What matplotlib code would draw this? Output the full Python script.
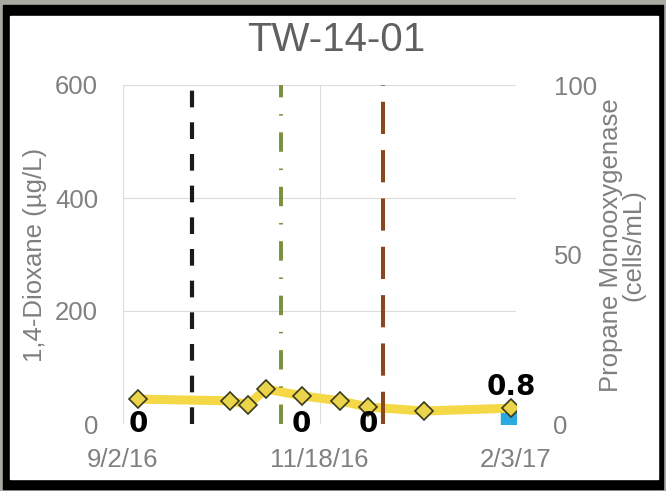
import matplotlib
matplotlib.use("Agg")
import matplotlib.pyplot as plt
from matplotlib.patches import Rectangle
import numpy as np
import pandas as pd

# ---------------- data ----------------
title = "TW-14-01"
dioxane_dates = ["2016-09-08", "2016-10-14", "2016-10-21", "2016-10-28", "2016-11-11",
                 "2016-11-26", "2016-12-07", "2016-12-29", "2017-02-01"]
dioxane_vals = [44, 41, 34, 62, 50, 41, 30, 23, 28]

pmo_dates = ["2016-09-08", "2016-11-11", "2016-12-07", "2017-02-01"]
pmo_vals = [0, 0, 0, 0.8]

event_dates = ["2016-09-29", "2016-11-03", "2016-12-13"]
event_colors = ["#1a1a1a", "#78913a", "#8a461c"]

xtick_dates = ["2016-09-02", "2016-11-18", "2017-02-03"]
xtick_labels = ["9/2/16", "11/18/16", "2/3/17"]
left_ticks = [0, 200, 400, 600]
right_ticks = [0, 50, 100]
left_label = "1,4-Dioxane (µg/L)"
right_label = "Propane Monooxygenase\n(cells/mL)"

# ---------------- figure ----------------
plt.rcParams['font.family'] = ['Liberation Sans', 'DejaVu Sans']
W, H = 666, 491
fig = plt.figure(figsize=(W / 100, H / 100), dpi=100, facecolor="#aaaaa3")

def fx(px):
    return px / W

def fy(py):
    return 1 - py / H

fig.patches.append(Rectangle((fx(3), fy(489)), fx(663) - fx(3), fy(5) - fy(489),
                             transform=fig.transFigure, color="black", zorder=-2))
fig.patches.append(Rectangle((fx(10), fy(479)), fx(658) - fx(10), fy(16) - fy(479),
                             transform=fig.transFigure, color="white", zorder=-1))

ax = fig.add_axes([fx(123), fy(424), fx(516) - fx(123), fy(85) - fy(424)])
ax2 = ax.twinx()
ax2.set_zorder(1)
ax.set_zorder(2)
ax.patch.set_visible(False)
ax2.patch.set_visible(False)

dd = pd.to_datetime(dioxane_dates)
pd_dates = pd.to_datetime(pmo_dates)
pv = np.array(pmo_vals)

# dioxane line
ax.plot(dd, dioxane_vals, color="#f4d846", lw=6.5, solid_capstyle="round", zorder=2)

# event lines
styles = [(0, (4, 3.6)), (0, (5, 4.3, 0.4, 4.3)), (0, (8, 4))]
widths = [3.0, 2.8, 2.9]
for d, c, ls, w in zip(pd.to_datetime(event_dates), event_colors, styles, widths):
    ax.axvline(d, color=c, lw=w, linestyle=ls, zorder=3)

ax.plot(dd, dioxane_vals, linestyle="none", marker="D", ms=9.5, mfc="#ead44a",
        mec="#3a3a1e", mew=1.2, zorder=4)

# PMO squares (detected values only) and data labels
det = pv > 0
ax2.plot(pd_dates[det], pv[det], linestyle="none", marker="s", ms=15,
         color="#2aa8df", zorder=2)
for d, v in zip(pd_dates, pv):
    off = 25 if v > 0 else 0
    ax.annotate(f"{v:g}", (d, v), xycoords=("data", ax2.transData), xytext=(0, off),
                textcoords="offset points", ha="center", va="center", fontsize=20,
                fontweight="bold", family="DejaVu Sans", color="black",
                annotation_clip=False, zorder=10)

# axes formatting
ax.set_xlim(pd.Timestamp(xtick_dates[0]), pd.Timestamp(xtick_dates[-1]))
ax.set_ylim(0, 600)
ax2.set_ylim(0, 100)
ax.set_xticks(pd.to_datetime(xtick_dates))
ax.set_xticklabels(xtick_labels)
ax.set_yticks(left_ticks)
ax2.set_yticks(right_ticks)

gcol = "#dcdcdc"
ax.grid(True, color=gcol, lw=0.8)
ax.set_axisbelow(True)
for a in (ax, ax2):
    for s in a.spines.values():
        s.set_visible(False)

tcol = "#808080"
ax.tick_params(axis="y", length=0, pad=18, labelsize=18.5, labelcolor=tcol)
ax.tick_params(axis="x", length=0, pad=17, labelsize=18.5, labelcolor=tcol)
ax2.tick_params(axis="y", length=0, pad=27, labelsize=18.5, labelcolor=tcol)

fig.text(fx(336), fy(40), title, ha="center", va="center", fontsize=29, color="#606060")
fig.text(fx(35), fy(255), left_label, rotation=90, ha="center", va="center",
         fontsize=18.5, color="#7f7f7f")
fig.text(fx(622), fy(245), right_label, rotation=90, ha="center", va="center",
         multialignment="center", linespacing=0.9, fontsize=18.5, color="#7f7f7f")

fig.savefig("out.png", dpi=100, facecolor=fig.get_facecolor())
